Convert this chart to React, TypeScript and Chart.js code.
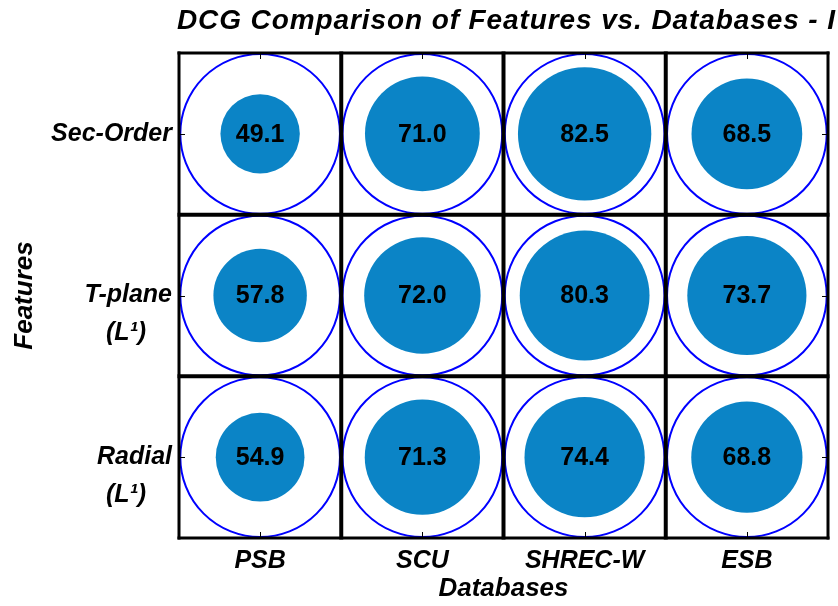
import React, { useEffect, useRef } from 'react';
import { Chart, registerables } from 'chart.js';

Chart.register(...registerables);

const chartTitle = 'DCG Comparison of Features vs. Databases - I';
const xAxisTitle = 'Databases';
const yAxisTitle = 'Features';
const databases = ['PSB', 'SCU', 'SHREC-W', 'ESB'];
const featureTickLabels: string[][] = [
  ['Sec-Order'],
  [' ', 'T-plane', '(L\u00B9)   \u2009'],
  [' ', 'Radial', '(L\u00B9)   \u2009'],
];
const secOrderValues = [49.1, 71.0, 82.5, 68.5];
const tPlaneValues = [57.8, 72.0, 80.3, 73.7];
const radialValues = [54.9, 71.3, 74.4, 68.8];
const maxValue = 100;

const FONT = 'Liberation Sans, Arial, sans-serif';
const FILL = '#0b84c6';
const RING = '#0000ff';

function halfCell(chart: any) {
  const xs = chart.scales.x;
  const ys = chart.scales.y;
  const hx = Math.abs(xs.getPixelForValue(1.5) - xs.getPixelForValue(1));
  const hy = Math.abs(ys.getPixelForValue(1.5) - ys.getPixelForValue(1));
  return Math.min(hx, hy);
}

const gridPlugin = {
  id: 'gridAndLabels',
  afterDatasetsDraw(chart: any) {
    const { ctx, chartArea } = chart;
    const xs = chart.scales.x;
    const ys = chart.scales.y;
    ctx.save();
    ctx.strokeStyle = '#000';
    ctx.lineCap = 'butt';
    for (let i = 0; i <= databases.length; i++) {
      const px = xs.getPixelForValue(0.5 + i);
      const outer = i === 0 || i === databases.length;
      ctx.lineWidth = outer ? 3 : 4;
      ctx.beginPath();
      ctx.moveTo(px, chartArea.top - 1.5);
      ctx.lineTo(px, chartArea.bottom + 1.5);
      ctx.stroke();
    }
    for (let j = 0; j <= featureTickLabels.length; j++) {
      const py = ys.getPixelForValue(0.5 + j);
      const outer = j === 0 || j === featureTickLabels.length;
      ctx.lineWidth = outer ? 3 : 4;
      ctx.beginPath();
      ctx.moveTo(chartArea.left - 1.5, py);
      ctx.lineTo(chartArea.right + 1.5, py);
      ctx.stroke();
    }
    ctx.lineWidth = 1;
    databases.forEach((_, i) => {
      const px = Math.round(xs.getPixelForValue(i + 1)) + 0.5;
      ctx.beginPath();
      ctx.moveTo(px, chartArea.top);
      ctx.lineTo(px, chartArea.top + 6);
      ctx.moveTo(px, chartArea.bottom);
      ctx.lineTo(px, chartArea.bottom - 6);
      ctx.stroke();
    });
    featureTickLabels.forEach((_, j) => {
      const py = Math.round(ys.getPixelForValue(j + 1)) + 0.5;
      ctx.beginPath();
      ctx.moveTo(chartArea.left, py);
      ctx.lineTo(chartArea.left + 6, py);
      ctx.moveTo(chartArea.right, py);
      ctx.lineTo(chartArea.right - 6, py);
      ctx.stroke();
    });
    ctx.fillStyle = '#000';
    ctx.font = `bold 25px ${FONT}`;
    ctx.textAlign = 'center';
    ctx.textBaseline = 'middle';
    const rows = [secOrderValues, tPlaneValues, radialValues];
    rows.forEach((vals, j) => {
      vals.forEach((v, i) => {
        ctx.fillText(v.toFixed(1), xs.getPixelForValue(i + 1), ys.getPixelForValue(j + 1) + 1);
      });
    });
    ctx.font = `italic bold 28px ${FONT}`;
    ctx.textAlign = 'left';
    try {
      (ctx as any).letterSpacing = '0.9px';
    } catch (e) {}
    ctx.fillText(chartTitle, chartArea.left - 2, 21);
    ctx.restore();
  },
};

export default function App() {
  const ref = useRef<HTMLCanvasElement | null>(null);
  useEffect(() => {
    if (!ref.current) return;
    const rows = [secOrderValues, tPlaneValues, radialValues];
    const fillData: any[] = [];
    const ringData: any[] = [];
    rows.forEach((vals, j) => {
      vals.forEach((v, i) => {
        fillData.push({ x: i + 1, y: j + 1, v });
        ringData.push({ x: i + 1, y: j + 1, v: maxValue });
      });
    });
    const axisTitleFont = { family: FONT, size: 26, weight: 'bold', style: 'italic', lineHeight: 1.2 };
    const chart = new Chart(ref.current, {
      type: 'scatter',
      data: {
        datasets: [
          {
            data: ringData,
            showLine: false,
            pointBackgroundColor: 'rgba(0,0,0,0)',
            pointBorderColor: RING,
            pointBorderWidth: 2,
            pointRadius: (c: any) => (c.raw ? (halfCell(c.chart) * c.raw.v) / maxValue - 1 : 0),
            clip: false as any,
          },
          {
            data: fillData,
            showLine: false,
            pointBackgroundColor: FILL,
            pointBorderColor: FILL,
            pointBorderWidth: 0,
            pointRadius: (c: any) => (c.raw ? (halfCell(c.chart) * c.raw.v) / maxValue : 0),
            clip: false as any,
          },
        ],
      },
      options: {
        animation: false,
        responsive: false,
        events: [],
        layout: { padding: { top: 53, right: 10, left: 0, bottom: 0 } },
        plugins: { legend: { display: false }, tooltip: { enabled: false }, title: { display: false } },
        scales: {
          x: {
            type: 'linear',
            min: 0.5,
            max: 4.5,
            afterBuildTicks: (s: any) => {
              s.ticks = databases.map((_, i) => ({ value: i + 1 }));
            },
            afterFit: (s: any) => {
              s.height = 68;
              s.paddingLeft = 0;
              s.paddingRight = 0;
            },
            grid: { display: false, drawTicks: false },
            border: { display: false },
            ticks: {
              padding: 8,
              color: '#000',
              font: { family: FONT, size: 25, weight: 'bold', style: 'italic', lineHeight: 1.2 },
              callback: (_v: any, i: number) => databases[i],
              maxRotation: 0,
              autoSkip: false,
            },
            title: {
              display: true,
              text: xAxisTitle,
              color: '#000',
              font: axisTitleFont,
              padding: { top: 0, bottom: 2 },
            },
          },
          y: {
            type: 'linear',
            min: 0.5,
            max: 3.5,
            reverse: true,
            afterBuildTicks: (s: any) => {
              s.ticks = featureTickLabels.map((_, j) => ({ value: j + 1 }));
            },
            afterFit: (s: any) => {
              s.width = 179;
              s.paddingTop = 0;
              s.paddingBottom = 0;
            },
            grid: { display: false, drawTicks: false },
            border: { display: false },
            ticks: {
              padding: 7,
              color: '#000',
              font: { family: FONT, size: 25, weight: 'bold', style: 'italic', lineHeight: 1.5 },
              callback: (_v: any, j: number) => featureTickLabels[j],
              autoSkip: false,
            },
            title: {
              display: true,
              text: yAxisTitle,
              color: '#000',
              font: axisTitleFont,
              padding: { top: 9, bottom: 0 },
            },
          },
        },
      },
      plugins: [gridPlugin],
    } as any);
    return () => chart.destroy();
  }, []);
  return (
    <div style={{ position: 'absolute', left: 0, top: 0, width: 838, height: 606, background: '#fff' }}>
      <canvas ref={ref} width={838} height={606} style={{ display: 'block', width: 838, height: 606 }} />
    </div>
  );
}
